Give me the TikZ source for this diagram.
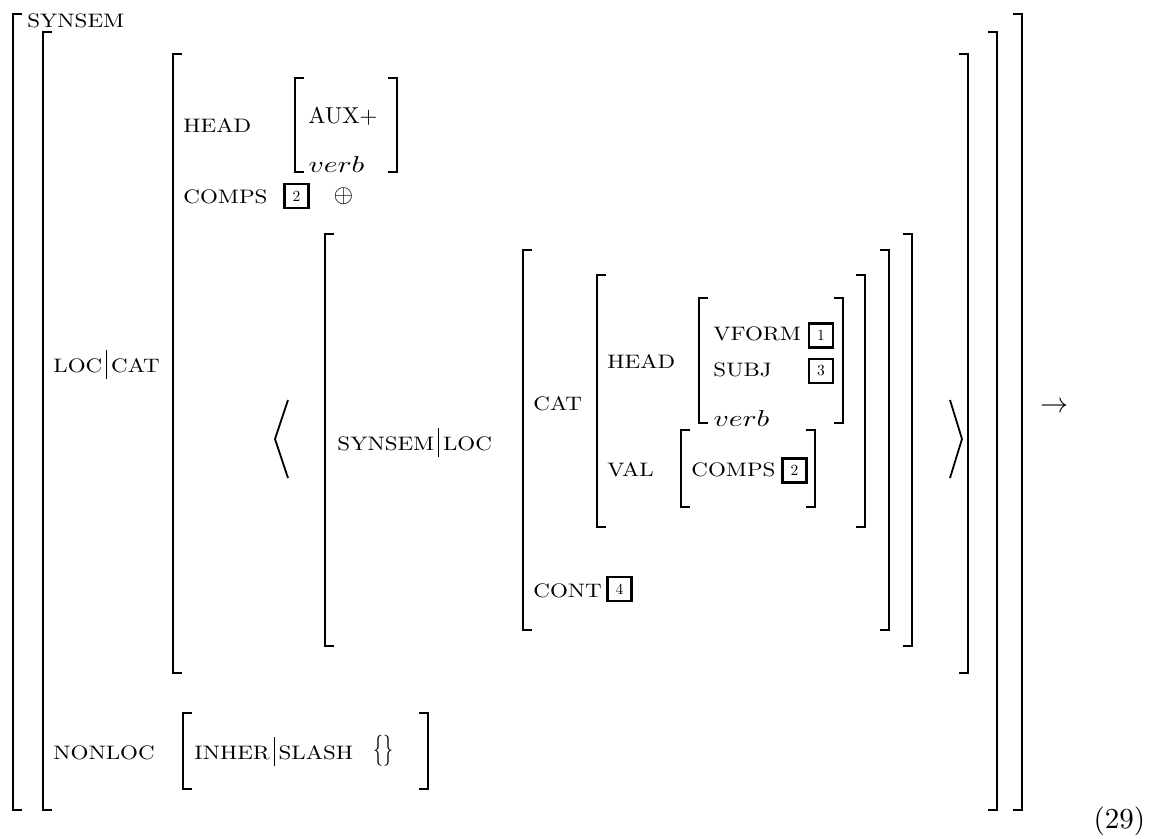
\documentclass[tikz,border=0pt]{standalone}
\usepackage{fix-cm}
\usepackage{graphicx}
\usepackage{tikz}
\usetikzlibrary{positioning}

\tikzset{
  brk/.style={line width=2.5pt, line cap=butt, line join=miter},
  angl/.style={line width=1.8pt, line join=miter},
  lbl/.style={anchor=base west, inner sep=0pt, xscale=2.3, yscale=1.95,
              font=\fontsize{10}{12}\selectfont},
  big/.style={anchor=base west, inner sep=0pt, scale=2.3,
              font=\fontsize{10}{12}\selectfont},
  tag/.style={draw, line width=2.4pt, minimum size=24pt, inner sep=0pt,
              font=\fontsize{10}{10}\selectfont},
}
\newcommand\vsep{\,\rule[-0.36em]{0.05em}{1.5em}\,}
\newcommand\tg[1]{\scalebox{1.55}{#1}}

\begin{document}
\begin{tikzpicture}[x=1pt, y=-1pt]
  \useasboundingbox (0,0) rectangle (1153,838);
  % bracket pairs: left x / right x / top / bottom
  \foreach \l/\r/\t/\b in {13/1022/14/810, 43/997/32/810, 173/968/54/673,
      295/397/78/172, 325/912/234/646, 523/889/250/630, 597/865/275/527,
      699/843/298/423, 681/815/430/507, 183/428/713/789}{
    \draw[brk] (\l+9,\t) -- (\l,\t) -- (\l,\b) -- (\l+9,\b);
    \draw[brk] (\r-9,\t) -- (\r,\t) -- (\r,\b) -- (\r-9,\b);
  }
  % list angles
  \draw[angl] (288,400) -- (275,439) -- (288,478);
  \draw[angl] (950,400) -- (962,439) -- (950,478);

  \node[lbl] (synsem) at (27,27) {SYNSEM};
  \node[lbl] (loccat) at (53,372) {LOC\vsep CAT};
  \node[lbl] (head) at (183,132) {HEAD};
  \node[big] (aux) at (308,123) {AUX$+$};
  \node[big, xscale=1.28] (verb) at (308,172) {$verb$};
  \node[lbl] (comps) at (183,203) {COMPS};
  \node[tag] (tagtwo) at (296.5,196) {\tg{2}};
  \node[big, anchor=center, scale=1.1] (oplus) at (343.5,196.5) {$\oplus$};

  \node[lbl] (synloc) at (337,450) {SYNSEM\vsep LOC};
  \node[lbl] (cat) at (533,410) {CAT};
  \node[lbl] (ihead) at (607,368) {HEAD};
  \node[lbl] (vform) at (713,340) {VFORM};
  \node[tag] (tagone) at (821,335.5) {\tg{1}};
  \node[lbl] (subj) at (713,376) {SUBJ};
  \node[tag] (tagthree) at (821,371) {\tg{3}};
  \node[big, xscale=1.28] (iverb) at (713,426) {$verb$};
  \node[lbl] (val) at (607,476) {VAL};
  \node[lbl] (icomps) at (691,476) {COMPS};
  \node[tag] (itagtwo) at (794.5,470.5) {\tg{2}};
  \node[lbl] (cont) at (533,597) {CONT};
  \node[tag] (tagfour) at (619.5,589) {\tg{4}};

  \node[lbl] (nonloc) at (53,759) {NONLOC};
  \node[lbl] (slash) at (194,759) {INHER\vsep SLASH};
  \node[anchor=center, inner sep=0pt, xscale=2, yscale=3.1] (empty) at (383,751) {$\{\}$};

  \node[anchor=center, inner sep=0pt, scale=2.8] (arrow) at (1054,407) {$\rightarrow$};
  \node[anchor=base west, inner sep=0pt, scale=2.9] (eqno) at (1093,828) {(29)};
\end{tikzpicture}
\end{document}
